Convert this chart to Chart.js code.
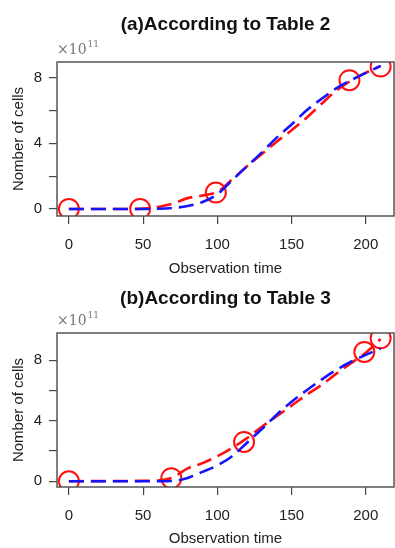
<!DOCTYPE html>
<html>
<head>
<meta charset="utf-8">
<script src="https://cdn.jsdelivr.net/npm/chart.js@4.4.1/dist/chart.umd.min.js"></script>
<style>
  body { margin: 0; background: #fff; }
  canvas { display: block; }
</style>
</head>
<body>
<canvas id="chartA" width="395" height="280"></canvas>
<canvas id="chartB" width="395" height="268"></canvas>
<script>
// observed points (red circles), values in units of 10^11 cells
var obsTimeA = [0, 48, 99, 189, 210];
var obsCellsA = [0, 0, 1.0, 7.85, 8.68];
var obsTimeB = [0, 69, 118, 199, 210];
var obsCellsB = [0, 0.2, 2.6, 8.55, 9.45];

// fitted curves, every 10 time units
var fitTime = [0, 10, 20, 30, 40, 50, 60, 70, 80, 90, 100, 110, 120, 130, 140, 150, 160, 170, 180, 190, 200, 210];
var redFitA = [0, 0, 0, 0, 0, 0.02, 0.12, 0.32, 0.66, 0.82, 1.05, 1.8, 2.6, 3.35, 4.1, 4.8, 5.55, 6.4, 7.2, 7.82, 8.3, 8.72];
var blueFitA = [0, 0, 0, 0, 0, 0, 0.01, 0.06, 0.18, 0.42, 0.9, 1.75, 2.6, 3.45, 4.35, 5.15, 6.0, 6.7, 7.35, 7.85, 8.3, 8.72];
var redFitB = [0, 0.01, 0.01, 0.02, 0.02, 0.03, 0.05, 0.25, 0.85, 1.2, 1.65, 2.2, 2.85, 3.6, 4.3, 5.0, 5.7, 6.35, 7.1, 7.8, 8.5, 9.4];
var blueFitB = [0, 0, 0, 0, 0, 0, 0, 0.02, 0.22, 0.62, 1.05, 1.65, 2.55, 3.45, 4.4, 5.25, 6.0, 6.7, 7.35, 7.9, 8.35, 8.78];

var xTicks = [0, 50, 100, 150, 200];
var yTicks = [0, 2, 4, 6, 8];

var FONT = '"Liberation Sans", Arial, sans-serif';

function pairs(xs, ys) {
    return xs.map(function (x, i) { return { x: x, y: ys[i] }; });
}

// frame round the plot, title and the x10^11 note
var framePlugin = {
    id: 'frame',
    afterDraw: function (chart, args, o) {
        var ctx = chart.ctx, a = chart.chartArea;
        ctx.save();
        ctx.strokeStyle = '#555';
        ctx.lineWidth = 1.5;
        ctx.strokeRect(a.left, a.top, a.right - a.left, a.bottom - a.top);

        ctx.fillStyle = '#111';
        ctx.font = 'bold 19px ' + FONT;
        ctx.textAlign = 'center';
        ctx.textBaseline = 'middle';
        ctx.fillText(o.title, (a.left + a.right) / 2, o.titleY);

        ctx.fillStyle = '#777';
        ctx.textAlign = 'left';
        ctx.textBaseline = 'alphabetic';
        ctx.font = '14px "DejaVu Serif", serif';
        ctx.fillText('\u00d710', a.left, o.expY);
        var w = ctx.measureText('\u00d710').width;
        ctx.font = '9px "DejaVu Serif", serif';
        ctx.fillText('11', a.left + w + 1, o.expY - 7);
        ctx.restore();
    }
};

function makeChart(id, opt) {
    new Chart(document.getElementById(id), {
        type: 'line',
        data: {
            datasets: [
                {
                    label: 'blue',
                    data: pairs(fitTime, opt.blue),
                    borderColor: '#1414ff',
                    borderWidth: 2.6,
                    borderDash: [15, 7],
                    pointRadius: 0,
                    fill: false,
                    cubicInterpolationMode: 'monotone',
                    clip: 0
                },
                {
                    label: 'red',
                    data: pairs(fitTime, opt.red),
                    borderColor: '#ff1010',
                    borderWidth: 2.6,
                    borderDash: [15, 7],
                    pointRadius: 0,
                    fill: false,
                    cubicInterpolationMode: 'monotone',
                    clip: 0
                },
                {
                    label: 'observed',
                    data: pairs(opt.obsX, opt.obsY),
                    showLine: false,
                    pointRadius: 10,
                    pointBorderWidth: 2,
                    pointBorderColor: '#ff1010',
                    pointBackgroundColor: 'rgba(0,0,0,0)',
                    clip: 0
                }
            ]
        },
        options: {
            responsive: false,
            animation: false,
            layout: { autoPadding: false, padding: { top: opt.top, right: 1, left: 0, bottom: 0 } },
            plugins: {
                legend: { display: false },
                tooltip: { enabled: false },
                frame: { title: opt.title, titleY: opt.titleY, expY: opt.expY }
            },
            scales: {
                x: {
                    type: 'linear',
                    min: -8,
                    max: 219,
                    afterBuildTicks: function (s) { s.ticks = xTicks.map(function (v) { return { value: v }; }); },
                    afterFit: function (s) { s.height = opt.xHeight; s.paddingLeft = 0; s.paddingRight = 0; },
                    grid: { drawOnChartArea: false, drawTicks: true, tickLength: 8, color: '#444', lineWidth: 1.2 },
                    border: { display: false },
                    ticks: { padding: 12, color: '#222', font: { family: FONT, size: 15 }, maxRotation: 0 },
                    title: { display: true, text: 'Observation time', color: '#222', font: { family: FONT, size: 15 }, padding: { top: 0, bottom: opt.xTitlePad } }
                },
                y: {
                    type: 'linear',
                    min: opt.yMin,
                    max: opt.yMax,
                    afterBuildTicks: function (s) { s.ticks = yTicks.map(function (v) { return { value: v }; }); },
                    afterFit: function (s) { s.width = 57; s.paddingTop = 0; s.paddingBottom = 0; },
                    grid: { drawOnChartArea: false, drawTicks: true, tickLength: 8, color: '#444', lineWidth: 1.2 },
                    border: { display: false },
                    ticks: {
                        padding: 7,
                        color: '#222',
                        font: { family: FONT, size: 15 },
                        callback: function (v) { return v % 4 === 0 ? String(v) : ''; }
                    },
                    title: { display: true, text: 'Nomber of cells', color: '#222', font: { family: FONT, size: 15 }, padding: { top: 10, bottom: 0 } }
                }
            }
        },
        plugins: [framePlugin]
    });
}

makeChart('chartA', {
    title: '(a)According to Table 2', titleY: 25, expY: 54,
    top: 62, xHeight: 64, xTitlePad: 2,
    yMin: -0.43, yMax: 8.96,
    red: redFitA, blue: blueFitA, obsX: obsTimeA, obsY: obsCellsA
});

makeChart('chartB', {
    title: '(b)According to Table 3', titleY: 19, expY: 45,
    top: 53, xHeight: 61, xTitlePad: 0,
    yMin: -0.38, yMax: 9.8,
    red: redFitB, blue: blueFitB, obsX: obsTimeB, obsY: obsCellsB
});
</script>
</body>
</html>
